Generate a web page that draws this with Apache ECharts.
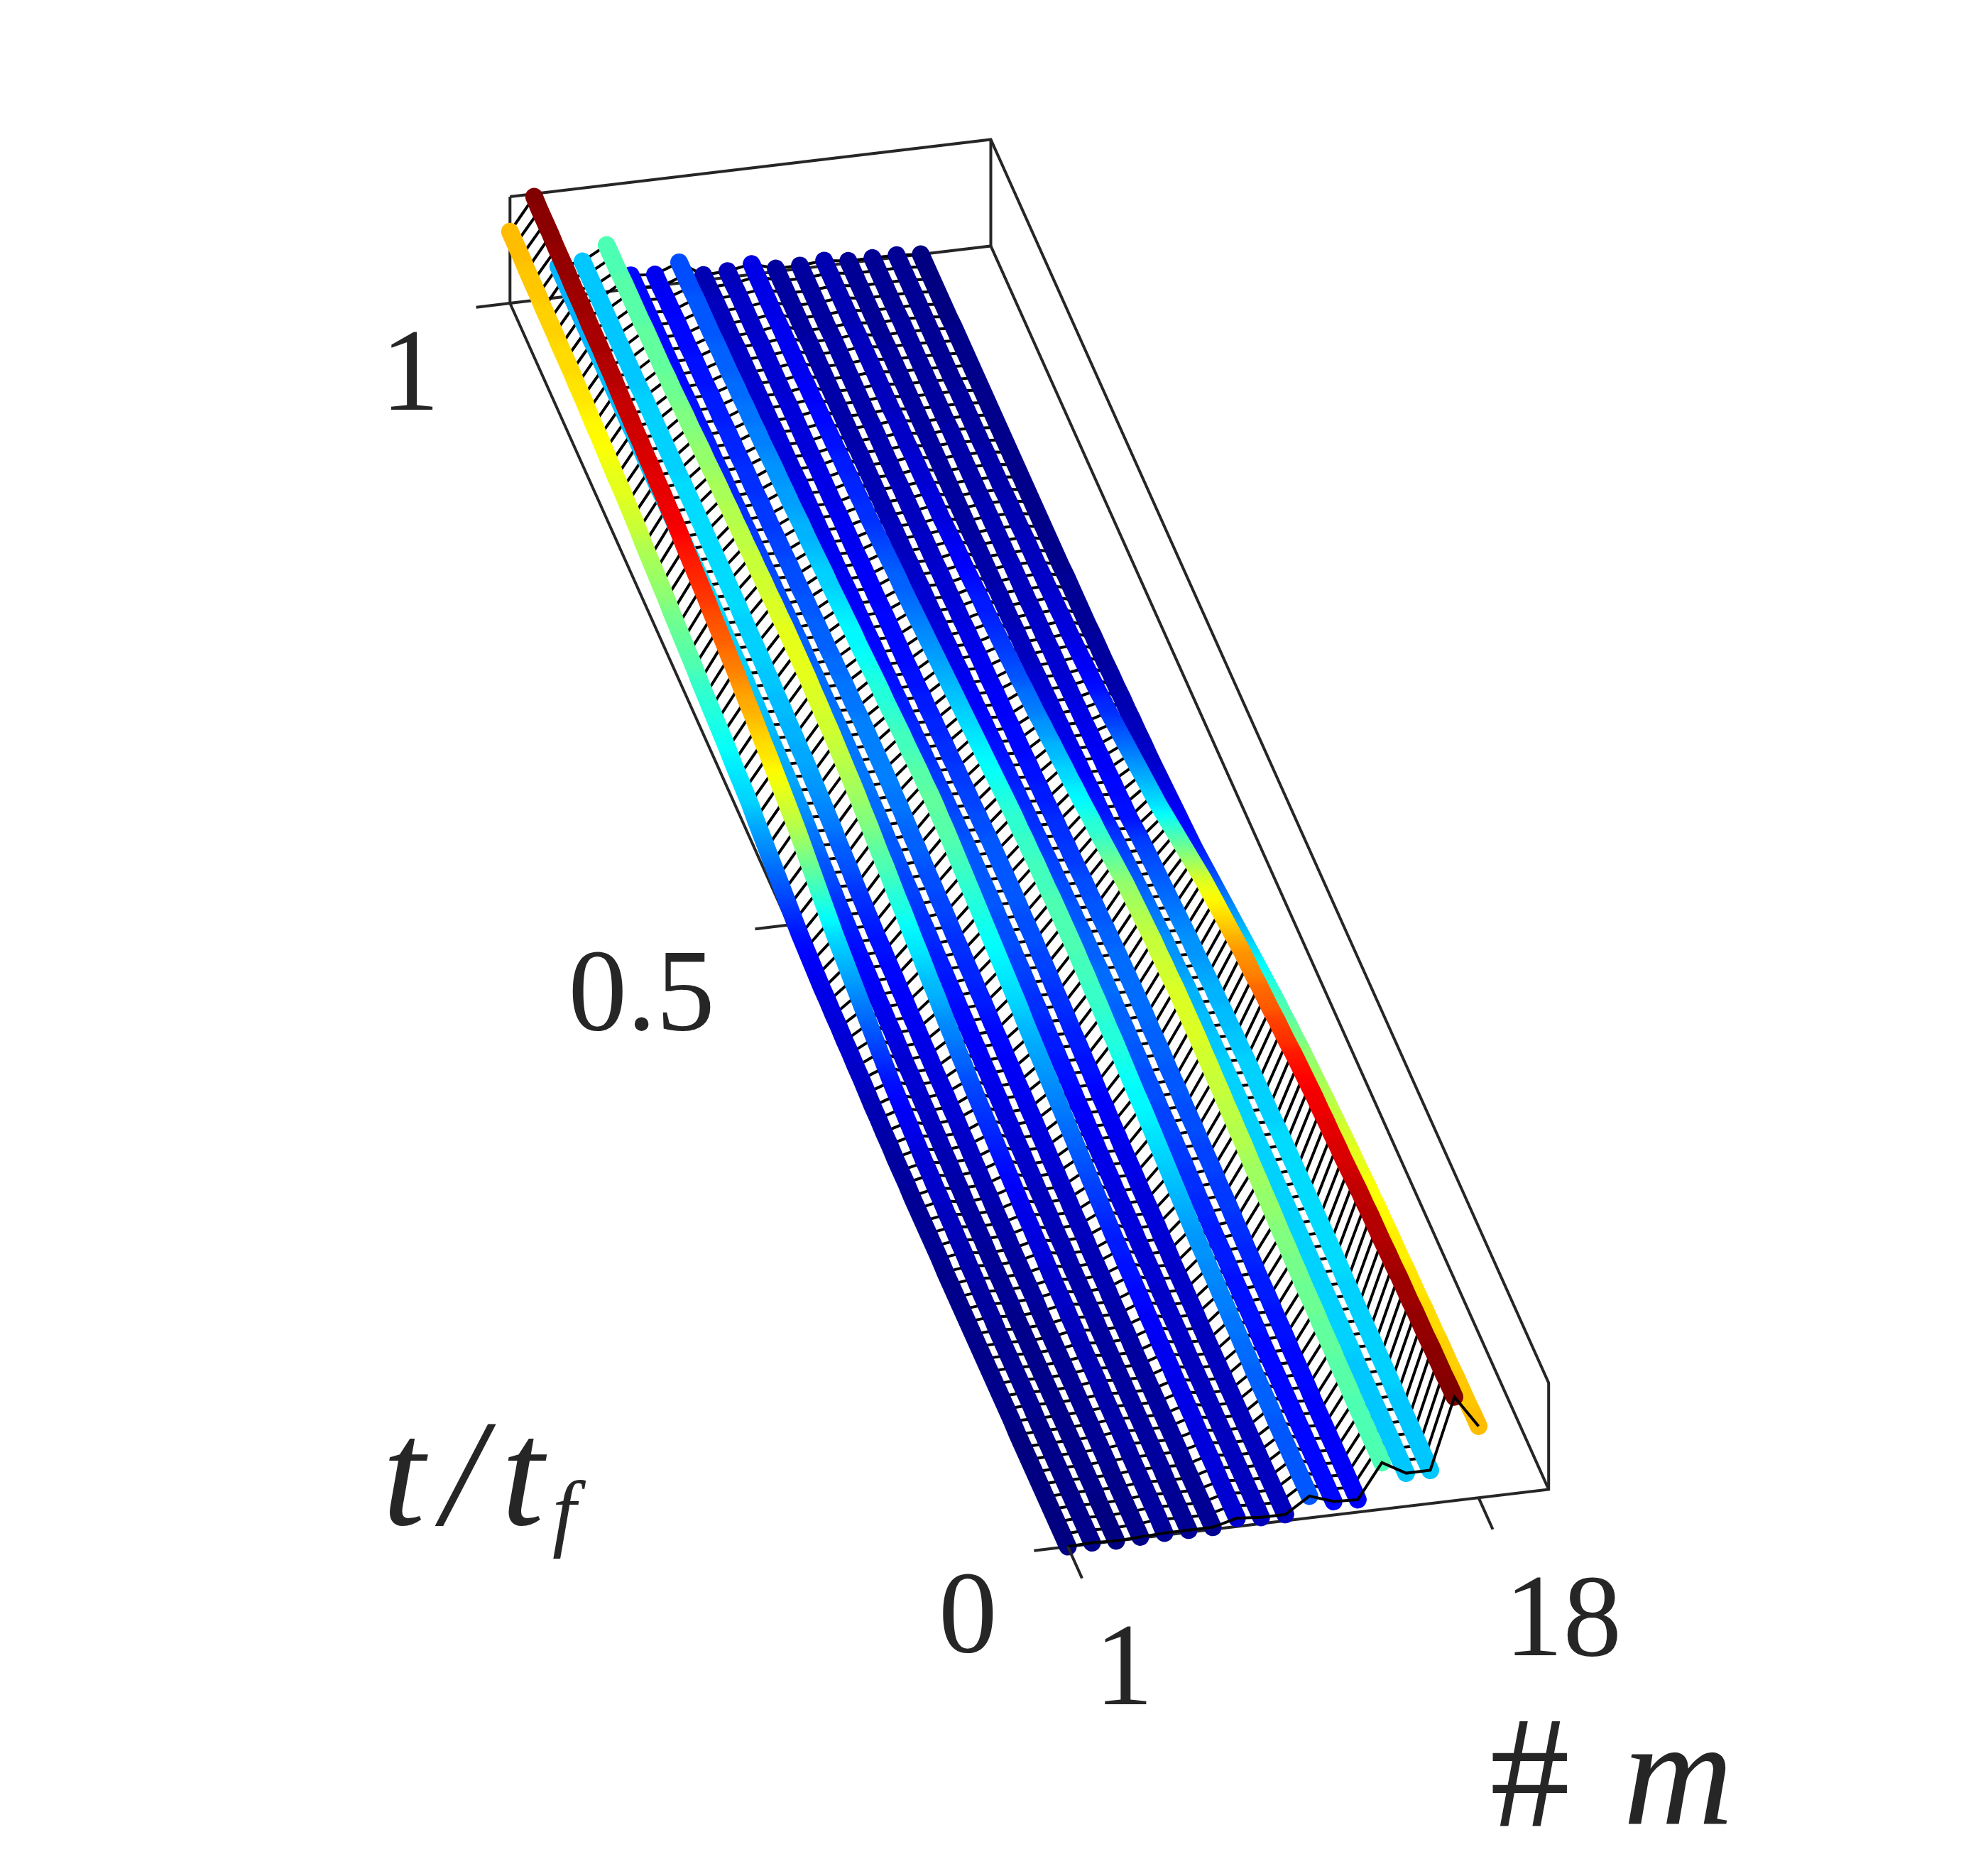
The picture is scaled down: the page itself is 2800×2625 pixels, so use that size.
<!DOCTYPE html>
<html>
<head>
<meta charset="utf-8">
<script src="https://cdn.jsdelivr.net/npm/echarts@6/dist/echarts.min.js"></script>
<style>html,body{margin:0;padding:0;background:#fff}#c{width:2800px;height:2625px}</style>
</head>
<body>
<div id="c"></div>
<script>
// Height of each of the 18 lines, as % of the colour scale, read at t/t_f = 0, 0.01, ... 1
const m01=[0,0,0,0,0,0,0,0,0,0,1,1,1,1,1,1,1,1,1,1,1,1,1,2,2,2,2,2,2,3,3,3,4,4,5,5,6,7,7,8,8,9,9,10,10,11,12,13,14,16,18,20,22,24,26,28,30,33,34,35,36,38,39,40,41,42,43,45,46,47,48,49,51,52,53,54,55,57,58,59,60,60,61,62,63,63,64,65,65,66,66,66,67,67,67,68,68,68,69,69,69];
const m02=[1,1,1,1,1,1,1,1,1,1,1,2,2,2,2,2,2,2,3,3,3,4,4,5,5,6,6,7,7,8,8,9,10,11,12,13,14,16,18,20,22,24,26,28,30,32,34,37,40,43,46,49,52,55,57,59,61,63,65,66,68,70,71,73,75,76,78,79,80,82,83,84,85,86,88,89,89,90,90,91,91,92,92,93,93,94,95,95,96,96,96,97,97,97,98,98,98,99,99,99,100];
const m03=[0,0,0,0,1,1,1,1,1,1,1,1,1,1,1,1,1,1,1,2,2,2,2,2,3,3,3,3,4,4,5,5,6,6,7,7,8,8,8,9,10,10,11,11,12,13,13,14,15,16,17,19,20,21,23,24,26,27,28,29,29,30,30,31,31,32,32,33,33,33,33,33,34,34,34,34,34,33,33,33,33,33,32,32,32,32,32,31,31,31,31,31,31,31,30,30,30,30,30,30,30];
const m04=[1,1,1,1,1,1,2,2,2,2,2,2,2,2,2,2,2,2,2,3,3,3,3,3,4,4,4,5,5,6,6,7,7,8,8,9,9,9,10,10,11,11,12,12,13,13,14,14,15,16,17,18,20,21,22,24,25,26,27,28,29,29,30,30,31,31,32,32,33,33,33,33,34,34,34,34,34,34,34,34,34,34,34,33,33,33,33,33,33,33,32,32,32,32,32,32,32,32,32,32,32];
const m05=[2,3,3,3,3,3,3,4,4,4,4,4,5,5,5,5,6,6,7,7,7,8,9,9,10,10,11,12,13,14,15,16,17,18,19,20,22,23,25,26,28,30,31,33,35,36,38,40,41,43,45,46,48,50,51,53,54,55,56,57,58,58,59,59,60,60,60,60,60,59,59,58,58,57,57,56,56,55,55,54,54,53,52,52,51,50,50,49,48,48,47,47,47,47,46,46,46,46,45,45,45];
const m06=[2,2,2,2,2,3,3,3,3,3,3,3,3,3,3,3,3,4,4,4,4,4,5,5,5,6,6,6,7,7,8,8,9,9,10,10,11,11,12,12,13,13,14,14,15,15,16,17,17,18,19,19,20,21,21,22,23,23,24,24,24,24,24,24,24,23,23,23,22,22,22,21,21,20,20,20,19,19,18,18,17,17,16,16,16,15,15,15,14,14,14,13,13,13,13,13,13,13,13,13,13];
const m07=[2,2,2,2,2,2,3,3,3,3,3,3,3,3,3,4,4,4,4,5,5,5,5,6,6,6,7,7,8,8,9,9,10,10,11,11,12,12,13,13,14,15,15,16,16,17,17,18,19,19,20,20,21,22,22,23,24,24,25,25,25,25,25,25,24,24,24,23,23,22,22,22,21,21,20,20,20,19,19,18,18,18,17,17,17,16,16,16,15,15,15,14,14,14,13,13,13,12,12,11,11];
const m08=[8,8,8,8,9,9,9,9,10,10,10,10,11,11,11,12,12,13,13,14,14,15,15,16,17,18,19,20,21,22,23,24,25,26,27,28,29,30,31,33,34,35,36,37,38,39,40,41,42,43,44,45,46,46,47,47,46,46,45,44,44,43,42,41,41,40,39,38,37,37,36,35,34,33,33,32,31,30,30,29,28,28,27,27,26,25,25,24,24,23,23,22,22,22,21,21,21,21,20,20,20];
const m09=[6,6,6,6,6,6,6,6,6,6,6,6,6,6,7,7,7,7,7,8,8,8,8,9,9,9,9,10,10,10,11,11,12,12,13,14,14,15,15,16,17,17,18,19,19,20,20,20,21,21,21,21,21,21,20,20,19,19,18,18,17,17,16,16,15,15,14,14,13,13,13,12,12,12,12,11,11,11,11,10,10,10,10,10,9,9,9,9,8,8,8,8,7,7,7,6,6,6,6,5,5];
const m10=[6,6,6,6,6,6,6,6,6,6,6,6,6,6,6,6,7,7,7,7,7,8,8,9,9,9,9,10,10,10,11,11,12,12,13,14,14,15,15,16,17,17,18,19,19,20,20,20,21,21,21,21,21,21,20,20,19,19,18,18,17,17,16,16,15,15,14,14,13,13,13,13,13,12,12,12,12,11,11,11,11,10,10,10,10,9,9,9,9,9,8,8,8,8,8,7,7,7,7,6,6];
const m11=[21,21,21,21,21,21,21,22,22,22,22,23,23,24,24,25,25,26,26,27,27,28,29,30,31,32,33,34,35,36,37,37,38,39,40,41,41,42,43,43,44,44,45,45,45,45,45,44,44,44,43,43,42,42,41,40,39,38,37,36,35,34,33,32,31,30,29,28,27,26,25,24,23,22,22,21,20,19,18,17,17,16,16,15,15,14,14,13,13,12,12,11,11,11,11,11,10,10,10,10,10];
const m12=[13,13,13,13,13,13,13,13,13,13,13,13,13,13,14,14,14,14,14,15,15,15,15,16,16,17,17,18,18,19,19,19,20,20,20,21,21,22,22,22,23,23,23,22,22,22,21,21,20,20,19,19,18,18,17,17,16,16,15,15,14,14,13,13,12,12,11,11,10,10,9,9,8,8,8,7,7,6,6,6,5,5,5,5,5,5,4,4,4,4,4,4,4,4,4,3,3,3,3,3,3];
const m13=[12,12,12,12,12,12,12,12,12,13,13,13,13,14,14,14,15,15,15,16,16,17,17,18,18,18,19,19,19,20,20,20,21,21,21,22,22,22,23,23,23,23,23,23,22,22,21,21,20,20,19,18,18,17,17,16,15,15,14,14,13,13,13,12,12,12,11,11,11,10,10,9,9,8,8,8,7,7,7,6,6,6,6,5,5,5,5,5,4,4,4,4,4,4,4,3,3,3,3,3,3];
const m14=[45,45,45,45,45,45,46,46,46,47,47,47,48,48,48,49,49,50,50,51,52,52,53,53,54,55,55,56,56,57,57,58,58,59,59,59,59,59,58,58,57,57,56,55,54,53,52,50,48,46,44,42,41,39,37,36,34,33,31,30,28,27,25,24,23,21,20,19,18,17,16,15,15,14,13,12,12,11,10,9,9,9,8,8,8,7,7,7,6,6,6,6,6,6,6,5,5,5,5,5,5];
const m15=[32,32,32,32,32,32,32,32,32,32,33,33,33,33,33,33,33,33,33,33,33,33,33,33,33,33,33,33,33,33,33,33,33,33,32,32,31,31,30,30,29,28,27,27,26,25,24,23,22,21,20,19,18,17,15,14,14,13,12,12,11,10,10,9,9,8,8,7,6,6,6,5,5,5,4,4,4,4,3,3,3,3,3,3,3,3,3,3,3,3,3,3,3,3,2,2,2,2,2,2,2];
const m16=[32,32,32,32,32,32,32,33,33,33,33,33,33,33,33,33,34,34,34,34,34,34,34,34,34,34,34,34,33,33,33,33,33,33,32,32,31,31,30,30,29,28,27,27,26,25,24,23,22,21,20,19,18,16,14,14,13,13,12,12,11,11,10,10,9,9,8,8,8,7,7,7,6,6,6,6,5,5,5,5,5,4,4,4,4,4,4,3,3,3,3,3,3,3,3,3,2,2,2,2,2];
const m17=[100,100,99,99,99,98,98,98,97,97,97,96,96,95,95,95,94,94,93,92,91,91,90,90,89,89,88,87,86,85,83,82,81,79,78,77,75,74,73,71,69,67,65,63,61,59,56,53,50,47,44,41,38,35,33,31,29,27,25,23,21,19,17,16,14,13,12,11,10,9,9,8,8,7,7,6,6,6,5,5,5,4,4,4,4,3,3,3,3,3,2,2,2,2,2,2,2,2,2,2,2];
const m18=[69,69,68,68,68,67,67,67,66,66,66,65,65,65,64,64,64,63,63,62,62,61,60,60,59,58,57,56,55,54,53,52,51,49,48,46,45,43,41,39,37,35,33,31,29,27,25,23,21,19,17,15,14,13,12,11,10,9,8,7,7,6,6,5,5,4,4,3,3,3,2,2,2,2,2,1,1,1,1,1,1,1,1,1,1,1,1,1,1,1,1,1,1,1,1,0,0,0,0,0,0];
const lines=[m01,m02,m03,m04,m05,m06,m07,m08,m09,m10,m11,m12,m13,m14,m15,m16,m17,m18];
const drawOrder=[18,16,15,14,13,12,11,10,9,8,7,6,5,4,3,1,2,17];
const tTicks=[0,0.5,1];
const tTickLabels=['0','0.5','1'];
const mTicks=[1,18];
const mTickLabels=['1','18'];
const mMax=20.9, zBox=102.7;

// Oblique view of the (m, t, height) box on a pixel-sized value plane
const O=[1504,2178], mStep=[34.03,-4.05], tStep=[-785.7,-1751], zStep=1.46;
const P=(m,t,z)=>[O[0]+mStep[0]*(m-1)+tStep[0]*t, O[1]+mStep[1]*(m-1)+tStep[1]*t-zStep*z];
const jet=c=>{const f=k=>Math.round(255*Math.max(0,Math.min(1,1.5-Math.abs(4*c-k))));return `rgb(${f(3)},${f(2)},${f(1)})`;};

const INK='#262626', W=25;
const base={type:'line',showSymbol:false,symbol:'none',silent:true,animation:false,clip:false};
const series=[];
// box
const box=[
 [[1,1,zBox],[mMax,1,zBox],[mMax,0,zBox],[mMax,0,0],[1,0,0],[1,1,0],[mMax,1,0],[mMax,0,0]],
 [[1,1,0],[1,1,zBox]],[[mMax,1,0],[mMax,1,zBox]]
];
box.forEach(b=>series.push({...base,z:1,data:b.map(p=>P(...p)),lineStyle:{color:INK,width:4,join:'miter'}}));
// ticks
tTicks.forEach(t=>series.push({...base,z:1,data:[P(1,t,0),P(-0.4,t,0)],lineStyle:{color:INK,width:4}}));
mTicks.forEach(m=>series.push({...base,z:60,data:[P(m,0,0),P(m,-0.0255,0)],lineStyle:{color:INK,width:4}}));
// time slices
const nT=m01.length;
for(let i=0;i<nT;i++){
  series.push({...base,z:i===0?50:2,data:lines.map((l,k)=>P(k+1,i/(nT-1),l[i])),lineStyle:{color:'#000',width:4,join:'miter'}});
}
// thick lines coloured by their height
drawOrder.forEach((m,idx)=>{
  const l=lines[m-1], pts=l.map((z,i)=>P(m,i/(nT-1),z));
  const ys=pts.map(p=>p[1]), y0=Math.min(...ys)-W/2, y1=Math.max(...ys)+W/2;
  const stops=pts.map((p,i)=>({offset:(p[1]-y0)/(y1-y0),color:jet(l[i]/100)})).sort((a,b)=>a.offset-b.offset);
  series.push({...base,z:10+idx,data:pts,lineStyle:{width:W,cap:'round',join:'round',
    color:{type:'linear',x:0,y:0,x2:0,y2:1,colorStops:stops}}});
});
// text
const FONT='"Liberation Serif"';
const txt=(pos,off,formatter,extra)=>({value:pos,label:{show:true,position:'inside',align:'center',verticalAlign:'middle',offset:off,formatter,color:INK,fontFamily:FONT,fontSize:165,...extra}});
const labelData=[];
const tOff=[[-93,99],[-160,99],[-93,101]];
tTicks.forEach((t,i)=>labelData.push(txt(P(-0.4,t,0),tOff[i],tTickLabels[i])));
const mOff=[[59,134],[99,134]];
mTicks.forEach((m,i)=>labelData.push(txt(P(m,-0.0255,0),mOff[i],mTickLabels[i])));
labelData.push(txt([669,2090],[0,0],'{i|t}{i|/}{i|t}{s|f}',{rich:{
  i:{fontFamily:FONT,fontStyle:'italic',fontSize:215,color:INK,padding:[0,12,0,12],verticalAlign:'top',lineHeight:215},
  s:{fontFamily:FONT,fontStyle:'italic',fontSize:120,color:INK,verticalAlign:'bottom',lineHeight:215}}}));
labelData.push(txt([2270,2512],[0,0],'{a|#}{b|m}',{rich:{
  a:{fontFamily:FONT,fontSize:225,color:INK,padding:[0,75,0,0]},
  b:{fontFamily:FONT,fontStyle:'italic',fontSize:215,color:INK}}}));
series.push({type:'scatter',silent:true,animation:false,clip:false,z:70,symbolSize:1,itemStyle:{color:'rgba(0,0,0,0)',opacity:1},data:labelData});

const chart=echarts.init(document.getElementById('c'),null,{renderer:'canvas'});
chart.setOption({
  backgroundColor:'#fff',animation:false,
  grid:{left:0,right:0,top:0,bottom:0},
  xAxis:{type:'value',min:0,max:2800,show:false},
  yAxis:{type:'value',min:0,max:2625,inverse:true,show:false},
  series
});
</script>
</body>
</html>
